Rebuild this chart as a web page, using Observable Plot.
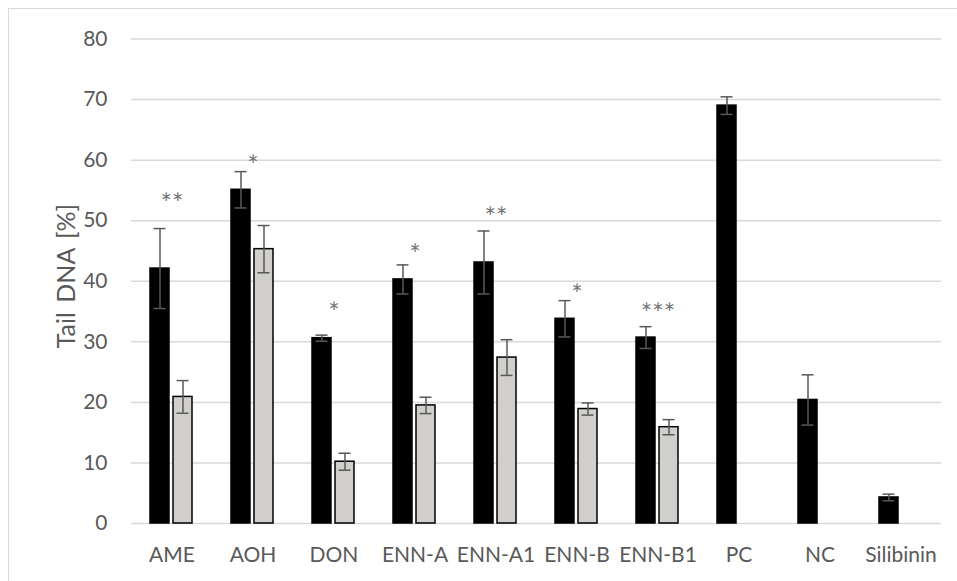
<!DOCTYPE html>
<html>
<head>
<meta charset="utf-8">
<script src="https://cdn.jsdelivr.net/npm/d3@7"></script>
<script src="https://cdn.jsdelivr.net/npm/@observablehq/plot@0.6"></script>
<style>
  html, body { margin: 0; padding: 0; background: #fff; overflow: hidden; }
  #wrap { position: relative; width: 957px; height: 581px; }
  #frame { position: absolute; left: 8px; top: 8px; width: 2000px; height: 2000px;
           border: 1.5px solid #d9d9d9; pointer-events: none; }
  #ytitle { position: absolute; left: 65px; top: 276px; transform: translate(-50%, -50%) rotate(-90deg);
            font-family: Lato, "Open Sans", sans-serif; font-size: 25px; line-height: 1; color: #595959;
            white-space: nowrap; word-spacing: 3px; }
  svg { font-family: Lato, "Open Sans", sans-serif; }
</style>
</head>
<body>
<div id="wrap"><div id="frame"></div><div id="ytitle"></div></div>
<script>
// ---- data ----
const categories = ["AME", "AOH", "DON", "ENN-A", "ENN-A1", "ENN-B", "ENN-B1", "PC", "NC", "Silibinin"];
const series = ["Series 1", "Series 2"];
const series1Values = [42.1, 55.1, 30.6, 40.3, 43.1, 33.8, 30.7, 69.0, 20.4, 4.3];
const series1Errors = [6.6, 3.0, 0.5, 2.4, 5.2, 3.0, 1.8, 1.45, 4.15, 0.55];
const series2Values = [20.9, 45.3, 10.2, 19.5, 27.4, 18.9, 15.9, null, null, null];
const series2Errors = [2.7, 3.9, 1.4, 1.35, 2.95, 1.0, 1.25, null, null, null];
const sigLabels   = ["**", "*", "*", "*", "**", "*", "***", "", "", ""];
const sigValues   = [53.7, 60.0, 35.7, 45.3, 51.3, 38.7, 35.5, null, null, null];
const yTicks = [0, 10, 20, 30, 40, 50, 60, 70, 80];
const yLabel = "Tail DNA [%]";

// tidy rows (shared by all faceted marks)
const rows = [];
categories.forEach((c, i) => {
  rows.push({cat: c, series: series[0], value: series1Values[i], err: series1Errors[i], sig: sigLabels[i], sigY: sigValues[i]});
  rows.push({cat: c, series: series[1], value: series2Values[i], err: series2Errors[i], sig: "", sigY: null});
});
const has = d => d.value != null;

const textGray = "#595959";
const chart = Plot.plot({
  width: 957,
  height: 581,
  marginLeft: 131,
  marginRight: 16,
  marginTop: 38.5,
  marginBottom: 58,
  style: {fontFamily: "Lato, 'Open Sans', sans-serif", fontSize: "21px", color: textGray, background: "transparent"},
  facet: {data: rows, x: "cat"},
  fx: {domain: categories, padding: 0, label: null, tickSize: 0, tickPadding: 24},
  x: {domain: series, paddingInner: 0.17, paddingOuter: 0.83, axis: null},
  y: {domain: [0, 80], ticks: yTicks, tickSize: 0, tickPadding: 24, label: null},
  color: {type: "ordinal", domain: series, range: ["#000000", "#d0cfcc"]},
  marks: [
    Plot.ruleY(yTicks, {stroke: "#d9d9d9", strokeWidth: 1.5}),
    Plot.barY(rows, {filter: has, x: "series", y: "value", fill: "series", stroke: "#000", strokeWidth: 1.5}),
    Plot.ruleX(rows, {filter: has, x: "series", y1: d => d.value - d.err, y2: d => d.value + d.err, stroke: "#595959", strokeWidth: 1.5}),
    Plot.tickY(rows, {filter: has, x: "series", y: d => d.value + d.err, stroke: "#595959", strokeWidth: 1.5, insetLeft: 3.5, insetRight: 3.5}),
    Plot.tickY(rows, {filter: has, x: "series", y: d => d.value - d.err, stroke: "#595959", strokeWidth: 1.5, insetLeft: 3.5, insetRight: 3.5}),
    Plot.text(rows, {filter: d => d.sig, y: "sigY", text: "sig", fill: "#767676", fontSize: 27, dy: 6})
  ]
});
const wrap = document.getElementById("wrap");
wrap.insertBefore(chart, wrap.firstChild);
chart.style.position = "absolute";
chart.style.left = "0px";
chart.style.top = "0px";
document.getElementById("ytitle").textContent = yLabel;
</script>
</body>
</html>
